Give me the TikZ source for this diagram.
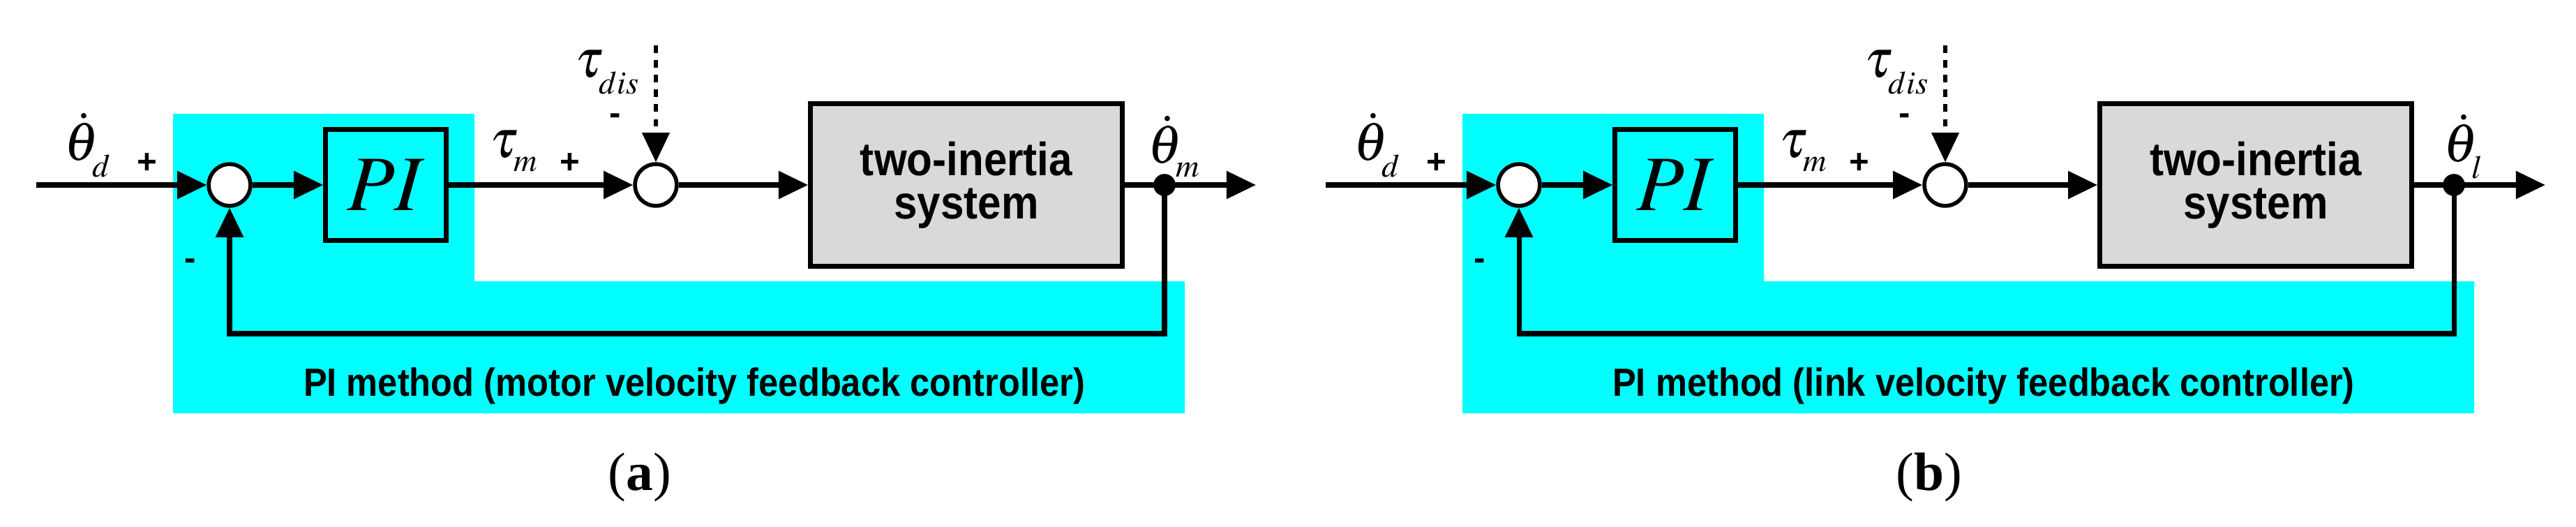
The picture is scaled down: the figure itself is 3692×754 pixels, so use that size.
\documentclass[tikz,border=0pt]{standalone}
\usepackage{mathptmx}
\usepackage[no-math]{fontspec}
\setmainfont{Liberation Serif}
\newfontfamily\sansf{Liberation Sans}
\usetikzlibrary{arrows.meta}
\definecolor{aqua}{RGB}{0,255,255}
\definecolor{boxgray}{RGB}{217,217,217}
\tikzset{
 sig/.style={line width=2pt,-{Triangle[length=12pt,width=11pt]}},
 ln/.style={line width=2pt},
 sum/.style={circle,draw,line width=1.6pt,minimum size=17pt,inner sep=0pt,fill=white},
 blk/.style={draw,line width=2pt,inner sep=0pt},
 lbl/.style={inner sep=0pt,font=\fontsize{22}{24}\selectfont},
 pm/.style={inner sep=0pt,font=\sansf\bfseries\fontsize{14}{16}\selectfont},
 cy/.style={fill=aqua},
}
\newcommand{\panel}[3]{%
 \fill[cy] (248,163)--(680,163)--(680,403)--(1698,403)--(1698,592)--(248,592)--cycle;
 \coordinate (in#1) at (52,265);
 \node[sum] (s1#1) at (329,265) {};
 \node[blk,minimum width=49pt,minimum height=45pt] (pi#1) at (553,265) {\fontsize{32}{34}\selectfont$PI$};
 \node[sum] (s2#1) at (940,265) {};
 \node[blk,fill=boxgray,minimum width=127pt,minimum height=66pt] (sys#1) at (1385,265)
   {\sansf\bfseries\fontsize{19}{21}\selectfont\scalebox{0.9}[1]{\shortstack{two-inertia\\[2pt]system}}};
 \coordinate (br#1) at (1669,265);
 \fill (br#1) circle (4.5pt);
 \coordinate (out#1) at (1800,265);
 \coordinate (dt#1) at (940,65);
 \draw[sig] (in#1) -- (s1#1);
 \draw[sig] (s1#1) -- (pi#1);
 \draw[sig] (pi#1) -- (s2#1);
 \draw[sig] (s2#1) -- (sys#1);
 \draw[ln] (sys#1) -- (br#1);
 \draw[sig] (br#1) -- (out#1);
 \draw[sig,dashed,line width=1.5pt] (dt#1) -- (s2#1);
 \draw[sig] (br#1) |- (329,478) -- (s1#1);
 \node[lbl] at (127,208) {$\dot{\theta}_{_d}$};
 \node[pm] at (211,234) {+};
 \node[lbl] at (738,217) {$\tau_{_m}$};
 \node[pm] at (817,234) {+};
 \node[lbl] at (872,104) {$\tau_{_{dis}}$};
 \node[pm] at (882,171) {-};
 \node[lbl] at (1684,210) {$\dot{\theta}_{_#2}$};
 \node[pm] at (273,379) {-};
 \node[inner sep=0pt] at (995,553) {\sansf\bfseries\fontsize{16}{18}\selectfont\scalebox{0.9}[1]{#3}};
}
\begin{document}
\begin{tikzpicture}[x=0.01cm,y=-0.01cm]
\useasboundingbox (0,0) rectangle (3692,754);
\panel{a}{m}{PI method (motor velocity feedback controller)}
\node[inner sep=0pt,font=\fontsize{22}{24}\selectfont] at (917,684) {(\textbf{a})};
\begin{scope}[shift={(1848,0)}]
\panel{b}{l}{PI method (link velocity feedback controller)}
\node[inner sep=0pt,font=\fontsize{22}{24}\selectfont] at (917,684) {(\textbf{b})};
\end{scope}
\end{tikzpicture}
\end{document}
